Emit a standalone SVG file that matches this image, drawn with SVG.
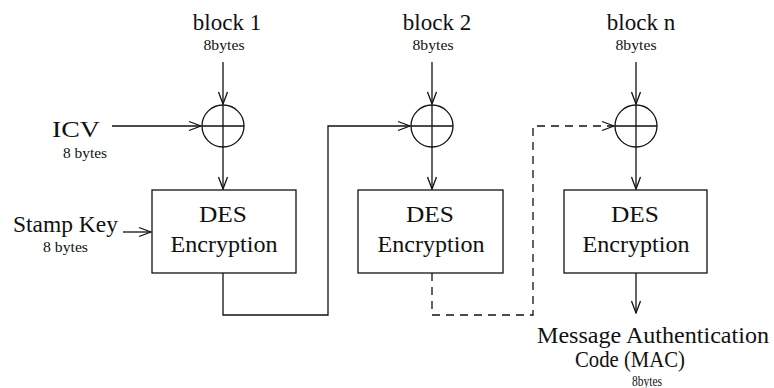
<svg xmlns="http://www.w3.org/2000/svg" width="774" height="388" viewBox="0 0 774 388">
  <style>
    .ln { fill: none; stroke: #111; stroke-width: 1.3; }
    .dash { stroke-dasharray: 8 6; }
    .box { fill: #fff; stroke: #111; stroke-width: 1.3; }
    .xor { fill: #fff; stroke: #111; stroke-width: 1.3; }
    .big { font-family: "Liberation Serif", "Times New Roman", serif; font-size: 23px; fill: #111; }
    .small { font-family: "Liberation Serif", "Times New Roman", serif; font-size: 15px; fill: #111; }
    .mid { text-anchor: middle; }
  </style>
  <defs>
    <marker id="arr" markerUnits="userSpaceOnUse" markerWidth="14" markerHeight="12" viewBox="0 0 14 12" refX="13" refY="6" orient="auto">
      <path d="M1,1.5 L13,6 L1,10.5" fill="none" stroke="#111" stroke-width="1.3"/>
    </marker>
  </defs>

  <!-- input blocks -->
  <g id="input-block1">
    <text class="big mid" x="227" y="30">block 1</text>
    <text class="small mid" x="224" y="50" textLength="41" lengthAdjust="spacingAndGlyphs">8bytes</text>
  </g>
  <g id="input-block2">
    <text class="big mid" x="437" y="30">block 2</text>
    <text class="small mid" x="433" y="50" textLength="41" lengthAdjust="spacingAndGlyphs">8bytes</text>
  </g>
  <g id="input-blockn">
    <text class="big mid" x="641" y="30">block n</text>
    <text class="small mid" x="636" y="50" textLength="41" lengthAdjust="spacingAndGlyphs">8bytes</text>
  </g>

  <!-- side inputs -->
  <g id="icv">
    <text class="big" x="52" y="137" textLength="48" lengthAdjust="spacingAndGlyphs">ICV</text>
    <text class="small" x="63" y="158" textLength="44" lengthAdjust="spacingAndGlyphs">8 bytes</text>
  </g>
  <g id="stamp-key">
    <text class="big" x="13" y="232" textLength="105" lengthAdjust="spacingAndGlyphs">Stamp Key</text>
    <text class="small" x="43" y="252" textLength="45" lengthAdjust="spacingAndGlyphs">8 bytes</text>
  </g>

  <!-- XOR nodes -->
  <g id="xor1">
    <circle class="xor" cx="223" cy="126" r="21"/>
    <path class="ln" d="M202,126 H244 M223,105 V147"/>
  </g>
  <g id="xor2">
    <circle class="xor" cx="432" cy="126" r="21"/>
    <path class="ln" d="M411,126 H453 M432,105 V147"/>
  </g>
  <g id="xorn">
    <circle class="xor" cx="636" cy="126" r="21"/>
    <path class="ln" d="M615,126 H657 M636,105 V147"/>
  </g>

  <!-- DES encryption stages -->
  <g id="des1">
    <rect class="box" x="152" y="190" width="144" height="83"/>
    <text class="big mid" x="223" y="222" textLength="48" lengthAdjust="spacingAndGlyphs">DES</text>
    <text class="big mid" x="224" y="252" textLength="107" lengthAdjust="spacingAndGlyphs">Encryption</text>
  </g>
  <g id="des2">
    <rect class="box" x="358" y="190" width="145" height="83"/>
    <text class="big mid" x="430" y="222" textLength="48" lengthAdjust="spacingAndGlyphs">DES</text>
    <text class="big mid" x="431" y="252" textLength="107" lengthAdjust="spacingAndGlyphs">Encryption</text>
  </g>
  <g id="desn">
    <rect class="box" x="564" y="190" width="143" height="83"/>
    <text class="big mid" x="635" y="222" textLength="48" lengthAdjust="spacingAndGlyphs">DES</text>
    <text class="big mid" x="636" y="252" textLength="107" lengthAdjust="spacingAndGlyphs">Encryption</text>
  </g>

  <!-- output -->
  <g id="mac">
    <text class="big" x="537" y="343" textLength="232" lengthAdjust="spacingAndGlyphs">Message Authentication</text>
    <text class="big" x="575" y="367" textLength="110" lengthAdjust="spacingAndGlyphs">Code (MAC)</text>
    <text class="small mid" x="647" y="386" textLength="30" lengthAdjust="spacingAndGlyphs">8bytes</text>
  </g>

  <!-- connectors -->
  <g id="connectors">
    <line class="ln" x1="223" y1="62" x2="223" y2="104" marker-end="url(#arr)"/>
    <line class="ln" x1="432" y1="62" x2="432" y2="104" marker-end="url(#arr)"/>
    <line class="ln" x1="636" y1="62" x2="636" y2="104" marker-end="url(#arr)"/>

    <line class="ln" x1="112" y1="126" x2="201" y2="126" marker-end="url(#arr)"/>
    <line class="ln" x1="123" y1="232" x2="151" y2="232" marker-end="url(#arr)"/>

    <line class="ln" x1="223" y1="147" x2="223" y2="189" marker-end="url(#arr)"/>
    <line class="ln" x1="432" y1="147" x2="432" y2="189" marker-end="url(#arr)"/>
    <line class="ln" x1="636" y1="147" x2="636" y2="189" marker-end="url(#arr)"/>

    <path class="ln" d="M223,273 V315 H328 V126 H410" marker-end="url(#arr)"/>
    <path class="ln dash" d="M432,273 V315 H533 V126 H614" marker-end="url(#arr)"/>

    <line class="ln" x1="636" y1="273" x2="636" y2="313" marker-end="url(#arr)"/>
  </g>
</svg>
